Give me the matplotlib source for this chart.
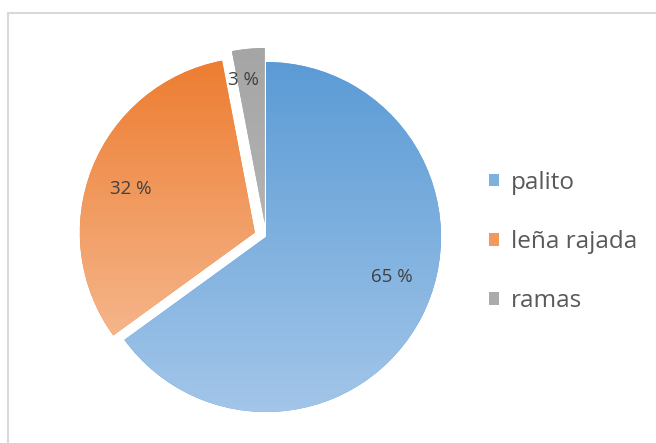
import numpy as np
import matplotlib
matplotlib.use("Agg")
import matplotlib.pyplot as plt
from matplotlib.patches import Rectangle
from matplotlib.colors import LinearSegmentedColormap

categories = ["palito", "leña rajada", "ramas"]
values = [65, 32, 3]
labels = ["65 %", "32 %", "3 %"]
explode_px = [0, 12, 14]

top_colors = ["#5B9BD5", "#ED7D31", "#A5A5A5"]
bottom_colors = ["#A3C6E9", "#F5B58A", "#B3B3B3"]

plt.rcParams["font.family"] = ["Open Sans", "DejaVu Sans"]

W, H = 656, 443
fig = plt.figure(figsize=(W / 100, H / 100), dpi=100)
ax = fig.add_axes([0, 0, 1, 1])

cx, cy, r = 266, 443 - 237, 175
wedges, texts = ax.pie(values, explode=explode_px, startangle=90, counterclock=False,
                       center=(cx, cy), radius=r, colors=top_colors,
                       wedgeprops=dict(linewidth=0), frame=True)
ax.set_aspect("equal")
ax.set_xlim(0, W)
ax.set_ylim(0, H)
ax.axis("off")

# chart area frame (left and top edges visible)
ax.add_patch(Rectangle((8, -20), W + 40, H - 12 + 20 - 0.5, fill=False,
                       edgecolor="#D9D9D9", linewidth=1.5, zorder=0))

# vertical gradient fill for each slice
grad = np.linspace(0, 1, 256).reshape(-1, 1)
for w, ct, cb in zip(wedges, top_colors, bottom_colors):
    verts = w.get_path().vertices
    x0, y0 = verts.min(axis=0)
    x1, y1 = verts.max(axis=0)
    cmap = LinearSegmentedColormap.from_list("g", [cb, ct])
    im = ax.imshow(grad, cmap=cmap, extent=(x0, x1, y0, y1), origin="lower",
                   aspect="auto", interpolation="bilinear", zorder=2)
    im.set_clip_path(w)
ax.set_aspect("equal")
ax.set_xlim(0, W)
ax.set_ylim(0, H)

label_pos = [(392, 277), (131, 189), (243, 80)]
for (lx, ly), t in zip(label_pos, labels):
    ax.text(lx, H - ly, t, ha="center", va="center", fontsize=13.5,
            color="#404040", zorder=5)

handles = [Rectangle((0, 0), 1, 1, facecolor=c) for c in
           ["#7EB1E0", "#F09A5C", "#ABABAB"]]
leg = fig.legend(handles, categories, loc="center left",
                 bbox_to_anchor=(467 / W, 1 - 242 / H), frameon=False,
                 fontsize=17.5, handlelength=0.42, handleheight=0.42,
                 handletextpad=0.5, labelspacing=1.45, labelcolor="#595959")

fig.savefig("out.png", dpi=100)
